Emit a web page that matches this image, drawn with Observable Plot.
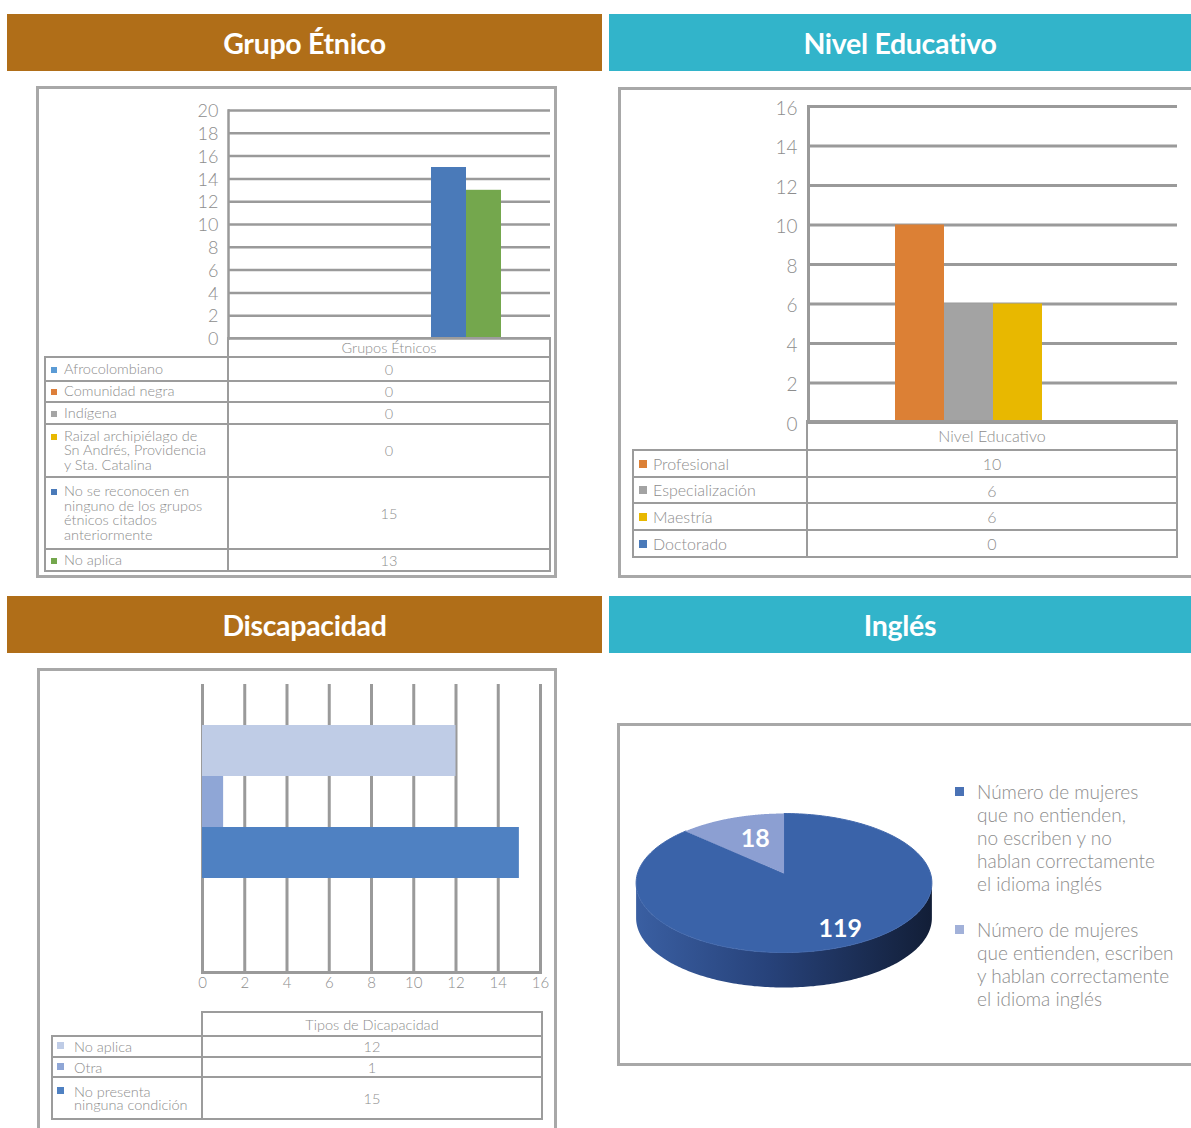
<!DOCTYPE html>
<html><head><meta charset="utf-8">
<script src="https://cdn.jsdelivr.net/npm/d3@7"></script>
<script src="https://cdn.jsdelivr.net/npm/@observablehq/plot@0.6"></script>
<style>
body{margin:0;background:#fff;font-family:Lato,"Open Sans",sans-serif;}
#root{position:relative;width:1191px;height:1128px;overflow:hidden;background:#fff;}
.hdr{position:absolute;height:57px;color:#fff;font-weight:700;font-size:28.5px;display:flex;align-items:center;justify-content:center;letter-spacing:-0.3px;}
.panel{position:absolute;border:3px solid #a8a8a8;box-sizing:border-box;}
.tc{position:absolute;border:2px solid #9c9c9c;box-sizing:border-box;display:flex;align-items:center;color:#8d8d8d;font-weight:300;}
.mk{display:inline-block;flex:none;}
</style></head>
<body><div id="root"></div>
<script>
// ---------------- DATA ----------------
const headerTitles = ["Grupo Étnico", "Nivel Educativo", "Discapacidad", "Inglés"];

const etnicoCategory = "Grupos Étnicos";
const etnicoCats = ["Afrocolombiano", "Comunidad negra", "Indígena",
  "Raizal archipiélago de\nSn Andrés, Providencia\ny Sta. Catalina",
  "No se reconocen en\nninguno de los grupos\nétnicos citados\nanteriormente", "No aplica"];
const etnicoValues = [0, 0, 0, 0, 15, 13];
const etnicoColors = ["#5b9bd5", "#dd7f3a", "#a5a5a5", "#e8b800", "#4a7ab9", "#74a74d"];
const etnicoTicks = [0, 2, 4, 6, 8, 10, 12, 14, 16, 18, 20];

const nivelCategory = "Nivel Educativo";
const nivelCats = ["Profesional", "Especialización", "Maestría", "Doctorado"];
const nivelValues = [10, 6, 6, 0];
const nivelColors = ["#dc8035", "#a3a3a3", "#e8b800", "#4a7ab9"];
const nivelTicks = [0, 2, 4, 6, 8, 10, 12, 14, 16];

const discCategory = "Tipos de Dicapacidad";
const discCats = ["No aplica", "Otra", "No presenta\nninguna condición"];
const discValues = [12, 1, 15];
const discColors = ["#bfcce6", "#8fa6d6", "#4f81c2"];
const discTicks = [0, 2, 4, 6, 8, 10, 12, 14, 16];

const inglesLabels = ["Número de mujeres\nque no entienden,\nno escriben y no\nhablan correctamente\nel idioma inglés",
  "Número de mujeres\nque entienden, escriben\ny hablan correctamente\nel idioma inglés"];
const inglesValues = [119, 18];
const inglesColors = ["#3a63a9", "#8c9fd2"];
const inglesLegendColors = ["#4a72b5", "#a2b1d9"];

// ---------------- STYLE ----------------
const gridColor = "#9a9a9a";
const textColor = "#8d8d8d";
const font = "Lato, 'Open Sans', sans-serif";
const baseStyle = {background: "transparent", color: textColor, fontFamily: font, overflow: "visible"};
const root = document.getElementById("root");

function place(el, x, y) { el.style.position = "absolute"; el.style.left = x + "px"; el.style.top = y + "px"; root.appendChild(el); return el; }
function mkDiv(cls, css, text) { const d = document.createElement("div"); if (cls) d.className = cls; Object.assign(d.style, css || {}); if (text != null) d.textContent = text; root.appendChild(d); return d; }

// headers
const hdrBoxes = [[7, 14, 595, "#b06e18"], [609, 14, 582, "#32b4ca"], [7, 596, 595, "#b06e18"], [609, 596, 582, "#32b4ca"]];
headerTitles.forEach((t, i) => {
  const [x, y, w, c] = hdrBoxes[i];
  mkDiv("hdr", {left: x + "px", top: y + "px", width: w + "px", background: c}, t);
});

// panels
[[36, 86, 521, 492], [618, 87, 600, 491], [37, 668, 520, 480], [617, 723, 600, 343]].forEach(([x, y, w, h]) =>
  mkDiv("panel", {left: x + "px", top: y + "px", width: w + "px", height: h + "px"}));

// table helper
function cellBox(x0, y0, x1, y1, css) {
  return mkDiv("tc", Object.assign({left: (x0 - 1) + "px", top: (y0 - 1) + "px", width: (x1 - x0 + 2) + "px", height: (y1 - y0 + 2) + "px"}, css || {}));
}
function dataTable(cfg) {
  const {cols, headY, rowY, header, labels, values, colors, fontSize, lineHeight, mark, markLeft, gap, markTop} = cfg;
  const h = cellBox(cols[1], headY[0], cols[2], headY[1], {justifyContent: "center", fontSize: fontSize + "px"});
  h.textContent = header;
  labels.forEach((lab, i) => {
    const l = cellBox(cols[0], rowY[i], cols[1], rowY[i + 1], {fontSize: fontSize + "px", lineHeight: lineHeight + "px"});
    const wrap = document.createElement("div");
    Object.assign(wrap.style, {display: "flex", alignItems: "flex-start", paddingLeft: markLeft + "px"});
    const m = document.createElement("span");
    m.className = "mk";
    Object.assign(m.style, {width: mark + "px", height: mark + "px", background: colors[i], marginTop: markTop + "px", marginRight: gap + "px"});
    const t = document.createElement("span");
    t.style.whiteSpace = "pre-line";
    t.textContent = lab;
    wrap.appendChild(m); wrap.appendChild(t); l.appendChild(wrap);
    const r = cellBox(cols[1], rowY[i], cols[2], rowY[i + 1], {justifyContent: "center", fontSize: fontSize + "px"});
    r.textContent = values[i];
  });
}

// ---------------- Chart 1: Grupo Étnico ----------------
const etnicoData = etnicoCats.map((c, i) => ({cat: c, value: etnicoValues[i], color: etnicoColors[i]}));
const c1 = Plot.plot({
  width: 406, height: 248, marginLeft: 78, marginTop: 15, marginRight: 6, marginBottom: 5,
  style: baseStyle,
  x: {domain: etnicoCats, range: [141, 351], padding: 0, axis: null},
  y: {domain: [0, 20], label: null},
  color: {type: "identity"},
  marks: [
    Plot.ruleY(etnicoTicks, {stroke: gridColor, strokeWidth: 2.5}),
    Plot.barY(etnicoData, {x: "cat", y: "value", fill: "color"}),
    Plot.frame({anchor: "left", stroke: gridColor, strokeWidth: 2.5}),
    Plot.axisY(etnicoTicks, {tickSize: 0, tickPadding: 10, fontSize: 18, fontWeight: 300, fill: textColor, label: null, dy: 1})
  ]
});
place(c1, 150, 95);
dataTable({cols: [45, 228, 550], headY: [338, 357], rowY: [357, 381, 402, 424, 477, 549, 571],
  header: etnicoCategory, labels: etnicoCats, values: etnicoValues, colors: etnicoColors,
  fontSize: 14.5, lineHeight: 14.5, mark: 6, markLeft: 5, gap: 7, markTop: 5});

// ---------------- Chart 2: Nivel Educativo ----------------
const nivelData = nivelCats.map((c, i) => ({cat: c, value: nivelValues[i], color: nivelColors[i]}));
const c2 = Plot.plot({
  width: 443, height: 334, marginLeft: 68, marginTop: 14, marginRight: 6, marginBottom: 4,
  style: baseStyle,
  x: {domain: nivelCats, range: [153, 352], padding: 0, axis: null},
  y: {domain: [0, 16], label: null},
  color: {type: "identity"},
  marks: [
    Plot.ruleY(nivelTicks, {stroke: gridColor, strokeWidth: 3}),
    Plot.barY(nivelData, {x: "cat", y: "value", fill: "color"}),
    Plot.frame({anchor: "left", stroke: gridColor, strokeWidth: 3}),
    Plot.axisY(nivelTicks, {tickSize: 0, tickPadding: 11, fontSize: 19, fontWeight: 300, fill: textColor, label: null, dy: 2})
  ]
});
place(c2, 740, 92);
dataTable({cols: [633, 807, 1177], headY: [421, 450], rowY: [450, 477, 503, 530, 557],
  header: nivelCategory, labels: nivelCats, values: nivelValues, colors: nivelColors,
  fontSize: 16, lineHeight: 16, mark: 8, markLeft: 5, gap: 6, markTop: 4});

// ---------------- Chart 3: Discapacidad ----------------
const discData = discCats.map((c, i) => ({cat: c, value: discValues[i], color: discColors[i]}));
const c3 = Plot.plot({
  width: 400, height: 330, marginLeft: 52, marginTop: 9, marginRight: 10, marginBottom: 33,
  style: baseStyle,
  x: {domain: [0, 16], label: null},
  y: {domain: discCats, range: [49, 204], padding: 0, axis: null},
  color: {type: "identity"},
  marks: [
    Plot.ruleX(discTicks, {stroke: gridColor, strokeWidth: 3}),
    Plot.barX(discData, {y: "cat", x: "value", fill: "color"}),
    Plot.frame({anchor: "bottom", stroke: gridColor, strokeWidth: 3}),
    Plot.axisX(discTicks, {tickSize: 0, tickPadding: 5, fontSize: 15, fontWeight: 300, fill: textColor, label: null})
  ]
});
place(c3, 150, 675);
dataTable({cols: [52, 202, 542], headY: [1012, 1036], rowY: [1036, 1057, 1077, 1119],
  header: discCategory, labels: discCats, values: discValues, colors: discColors,
  fontSize: 14.5, lineHeight: 13, mark: 7, markLeft: 4, gap: 10, markTop: 2});

// ---------------- Chart 4: Inglés (3D pie) ----------------
const arcs = d3.pie().sort(null).value(d => d)(inglesValues);
const K = 0.137, B = 68.2, DEPTH = 35;
function proj(a, r = 1) { const X = r * Math.sin(a), Z = r * Math.cos(a), w = 1 + K * Z; return [X / w, Z * B / w]; }
function rim(a0, a1, n, r = 1) { const p = []; for (let i = 0; i <= n; i++) p.push(proj(a0 + (a1 - a0) * i / n, r)); return p; }
const slicePts = arcs.map(a => [[0, 0], ...rim(a.startAngle, a.endAngle, 180)].map(([x, y]) => ({x, y})));
const aR = Math.acos(-K);
const front = rim(aR, 2 * Math.PI - aR, 180);
const sidePts = [...front.map(([x, y]) => ({x, y})), ...front.slice().reverse().map(([x, y]) => ({x, y: y - DEPTH}))];
const pieLabels = arcs.map((a, i) => { const [x, y] = proj((a.startAngle + a.endAngle) / 2, i === 0 ? 0.8 : 0.6); return {x, y, t: String(inglesValues[i])}; });
const c4 = Plot.plot({
  width: 310, height: 200, margin: 0,
  style: baseStyle,
  x: {domain: [-1, 1], range: [7, 300], axis: null},
  y: {domain: [-120, 70], range: [193, 3], axis: null},
  marks: [
    Plot.line(sidePts, {x: "x", y: "y", fill: "url(#sideGrad)", stroke: "none", curve: "linear-closed"}),
    Plot.line(slicePts[0], {x: "x", y: "y", fill: inglesColors[0], stroke: "#4369ad", strokeWidth: 1, curve: "linear-closed"}),
    Plot.line(slicePts[1], {x: "x", y: "y", fill: inglesColors[1], stroke: "none", curve: "linear-closed"}),
    Plot.text(pieLabels, {x: "x", y: "y", text: "t", fill: "white", fontSize: 25, fontWeight: 700, dx: 4})
  ]
});
const defs = d3.select(c4).insert("defs", ":first-child");
const g = defs.append("linearGradient").attr("id", "sideGrad").attr("x1", 0).attr("x2", 1).attr("y1", 0).attr("y2", 0);
[[0, "#3a5fa2"], [0.45, "#27427a"], [1, "#121e37"]].forEach(([o, c]) => g.append("stop").attr("offset", o).attr("stop-color", c));
place(c4, 630, 800);

// legend for pie
const leg = mkDiv(null, {position: "absolute", left: "955px", top: "780px", width: "230px", color: textColor, fontFamily: font, fontWeight: 300, fontSize: "19px", lineHeight: "23px"});
inglesLabels.forEach((lab, i) => {
  const row = document.createElement("div");
  Object.assign(row.style, {display: "flex", alignItems: "flex-start", marginBottom: "23px"});
  const m = document.createElement("span");
  Object.assign(m.style, {display: "inline-block", flex: "none", width: "9px", height: "9px", background: inglesLegendColors[i], marginTop: "7px", marginRight: "13px"});
  const t = document.createElement("span");
  t.style.whiteSpace = "pre-line";
  t.textContent = lab;
  row.appendChild(m); row.appendChild(t); leg.appendChild(row);
});
</script>
</body></html>
